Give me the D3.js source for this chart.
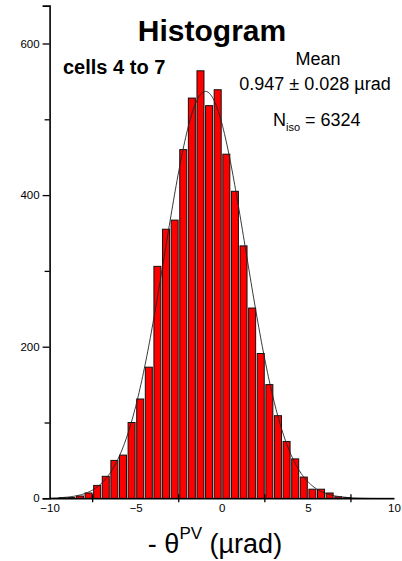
<!DOCTYPE html>
<html>
<head>
<meta charset="utf-8">
<script src="https://cdn.jsdelivr.net/npm/d3@7"></script>
<style>
  html, body { margin: 0; padding: 0; background: #fff; }
  svg { display: block; font-family: "Liberation Sans", Arial, Helvetica, sans-serif; }
</style>
</head>
<body>
<svg id="chart" width="402" height="561"></svg>
<script>
// Histogram of -θ^PV, 0.5 µrad bins
const binStarts = [-9.5, -9, -8.5, -8, -7.5, -7, -6.5, -6, -5.5, -5, -4.5, -4, -3.5, -3, -2.5, -2, -1.5, -1, -0.5,
                   0, 0.5, 1, 1.5, 2, 2.5, 3, 3.5, 4, 4.5, 5, 5.5, 6, 6.5, 7];
const counts = [1, 1, 3, 7, 17, 29, 50, 57, 100, 131, 173, 306, 355, 367, 460, 528, 564, 518, 539,
                454, 405, 333, 251, 191, 150, 109, 75, 52, 28, 12, 12, 7, 2, 1];
const binWidth = 0.5;

// Gaussian fit parameters
const fitMean = -0.947;
const fitSigma = 2.35;
const nIso = 6324;

const xTickLabels = [-10, -5, 0, 5, 10];
const xMinorTicks = [-7.5, -2.5, 2.5, 7.5];
const yTickLabels = [0, 200, 400, 600];
const yMinorTicks = [100, 300, 500];

const svg = d3.select("#chart");
const x = d3.scaleLinear().domain([-10, 10]).range([49.6, 394]);
const y = d3.scaleLinear().domain([0, 650]).range([498.3, 5.6]);

// bars
svg.append("g").selectAll("rect").data(binStarts).join("rect")
  .attr("x", (d) => x(d) + 1)
  .attr("y", (d, i) => y(counts[i]))
  .attr("width", () => x(binWidth) - x(0) - 1.6)
  .attr("height", (d, i) => y(0) - y(counts[i]))
  .attr("fill", "#ff0000")
  .attr("stroke", "#111")
  .attr("stroke-width", 1);

// fitted curve
const curvePts = d3.range(-10, 10.001, 0.05);
const amp = nIso * binWidth / (fitSigma * Math.sqrt(2 * Math.PI));
svg.append("path")
  .datum(curvePts)
  .attr("fill", "none")
  .attr("stroke", "#222")
  .attr("stroke-width", 0.9)
  .attr("d", d3.line()
    .x((v) => x(v))
    .y((v) => y(amp * Math.exp(-0.5 * Math.pow((v - fitMean) / fitSigma, 2)))));

// y axis
const yAxis = svg.append("g").attr("transform", `translate(${x(-10)},0)`);
yAxis.call(d3.axisLeft(y).tickValues(yTickLabels).tickSize(7).tickPadding(3).tickFormat(d3.format("d")));
yAxis.select(".domain").attr("stroke", "#000").attr("stroke-width", 1.6);
const yMinor = yAxis.append("g").call(d3.axisLeft(y).tickValues(yMinorTicks).tickSize(5).tickFormat(""));
yMinor.select(".domain").remove();
yAxis.selectAll(".tick line").attr("stroke", "#000").attr("stroke-width", 1.3);
yAxis.selectAll(".tick text").attr("font-size", 11.5).attr("fill", "#000")
  .attr("font-family", "Liberation Sans, Arial, sans-serif");

// x axis
const xAxis = svg.append("g").attr("transform", `translate(0,${y(0)})`);
xAxis.call(d3.axisBottom(x).tickValues(xTickLabels).tickSize(0).tickPadding(6).tickFormat(d3.format("d")));
xAxis.select(".domain").attr("stroke", "#000").attr("stroke-width", 1.6);
xAxis.selectAll(".tick text").attr("font-size", 11.5).attr("fill", "#000")
  .attr("font-family", "Liberation Sans, Arial, sans-serif");
xAxis.selectAll(".minor").data(xMinorTicks).join("line")
  .attr("class", "minor")
  .attr("x1", (d) => x(d)).attr("x2", (d) => x(d))
  .attr("y1", -4).attr("y2", 4)
  .attr("stroke", "#000").attr("stroke-width", 1.3);

// titles and annotations
svg.append("text").attr("x", 212).attr("y", 41).attr("text-anchor", "middle")
  .attr("font-size", 30).attr("font-weight", "bold").text("Histogram");
svg.append("text").attr("x", 63).attr("y", 74)
  .attr("font-size", 20).attr("font-weight", "bold").text("cells 4 to 7");
svg.append("text").attr("x", 318).attr("y", 65).attr("text-anchor", "middle")
  .attr("font-size", 18).text("Mean");
svg.append("text").attr("x", 315).attr("y", 90).attr("text-anchor", "middle")
  .attr("font-size", 18).text("0.947 ± 0.028 µrad");
const nText = svg.append("text").attr("x", 273).attr("y", 126).attr("font-size", 18);
nText.append("tspan").text("N");
nText.append("tspan").attr("font-size", 11).attr("dy", 5).text("iso");
nText.append("tspan").attr("dy", -5).text(" = 6324");

// x axis title
const xt = svg.append("text").attr("x", 215).attr("y", 553).attr("text-anchor", "middle").attr("font-size", 27);
xt.append("tspan").text("- θ");
xt.append("tspan").attr("font-size", 17).attr("dy", -14).text("PV");
xt.append("tspan").attr("dy", 14).text(" (µrad)");
</script>
</body>
</html>
